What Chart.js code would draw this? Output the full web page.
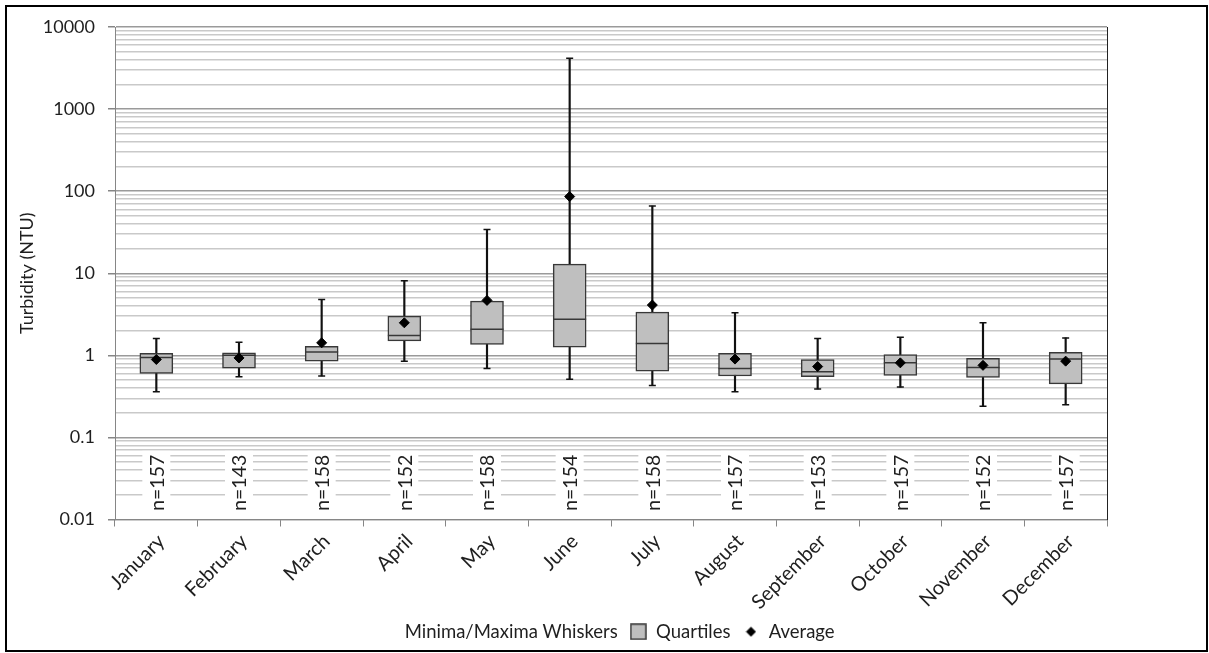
<!DOCTYPE html>
<html>
<head>
<meta charset="utf-8">
<title>Turbidity by month</title>
<script src="https://cdn.jsdelivr.net/npm/chart.js@4.4.1/dist/chart.umd.min.js"></script>
<style>
  html, body { margin: 0; padding: 0; background: #fff; }
  #wrap { position: relative; width: 1209px; height: 653px; }
  #wrap canvas { position: absolute; left: 0; top: 0; }
  #frame { position: absolute; left: 5px; top: 5px; right: 1px; bottom: 1px; border: 2px solid #000; pointer-events: none; }
</style>
</head>
<body>
<div id="wrap">
  <canvas id="turbidity" width="1209" height="653"></canvas>
  <div id="frame"></div>
</div>
<script>
// ── DATA ──────────────────────────────────────────────────────────────────────

const MONTHS = ['January', 'February', 'March', 'April', 'May', 'June',
                'July', 'August', 'September', 'October', 'November', 'December'];

const WHISKER_MIN = [0.36, 0.55, 0.56, 0.85, 0.69, 0.51, 0.43, 0.36, 0.39, 0.41, 0.24, 0.25];
const QUARTILE_1  = [0.60, 0.70, 0.85, 1.50, 1.36, 1.26, 0.64, 0.56, 0.55, 0.57, 0.54, 0.45];
const MEDIAN      = [0.94, 1.00, 1.10, 1.74, 2.08, 2.76, 1.39, 0.69, 0.63, 0.81, 0.71, 0.90];
const QUARTILE_3  = [1.06, 1.07, 1.29, 3.00, 4.58, 12.9, 3.36, 1.06, 0.89, 1.02, 0.92, 1.09];
const WHISKER_MAX = [1.60, 1.44, 4.8, 8.1, 34, 4150, 66, 3.3, 1.6, 1.66, 2.49, 1.63];
const AVERAGE     = [0.89, 0.93, 1.42, 2.49, 4.67, 86, 4.1, 0.90, 0.73, 0.81, 0.755, 0.85];
const COUNTS      = [157, 143, 158, 152, 158, 154, 158, 157, 153, 157, 152, 157];

const DECADES     = [0.01, 0.1, 1, 10, 100, 1000, 10000];
const Y_LABELS    = ['0.01', '0.1', '1', '10', '100', '1000', '10000'];
const MINOR_STEPS = [2, 3, 4, 5, 6, 7, 8, 9];

// ── STYLE ─────────────────────────────────────────────────────────────────────

const FONT = 'Lato, "Open Sans", sans-serif';
const TEXT = '#1f1f1f';
const AXIS = '#868686';
const GRID_MINOR = '#c9c9c9';
const GRID_MAJOR = '#9a9a9a';
const BOX_FILL = '#bfbfbf';
const BOX_EDGE = '#383838';

Chart.defaults.font.family = FONT;
Chart.defaults.font.size = 19;
Chart.defaults.color = TEXT;

// ── HELPERS ───────────────────────────────────────────────────────────────────

// log axis: one line per 1..9 step of each decade, labels only on decades
function buildLogTicks(scale) {
  const ticks = [];
  DECADES.forEach((d, i) => {
    ticks.push({ value: d, major: true });
    if (i < DECADES.length - 1) {
      MINOR_STEPS.forEach(s => ticks.push({ value: +(d * s).toPrecision(6), major: false }));
    }
  });
  scale.ticks = ticks;
}

const isDecade = v => DECADES.indexOf(v) >= 0;

function swatch(w, h, paint) {
  const c = document.createElement('canvas');
  c.width = w;
  c.height = h;
  paint(c.getContext('2d'));
  return c;
}

const blankMark = swatch(1, 1, () => {});
const boxMark = swatch(17, 17, g => {
  g.fillStyle = BOX_FILL;
  g.fillRect(1, 1, 15, 15);
  g.strokeStyle = BOX_EDGE;
  g.lineWidth = 1.5;
  g.strokeRect(1, 1, 15, 15);
});
const diamondMark = swatch(11, 11, g => {
  g.fillStyle = '#000';
  g.beginPath();
  g.moveTo(5.5, 0.5); g.lineTo(10.5, 5.5); g.lineTo(5.5, 10.5); g.lineTo(0.5, 5.5);
  g.closePath();
  g.fill();
});

// sample sizes written upright inside the lower band of the plot
const countLabels = {
  id: 'countLabels',
  beforeDatasetsDraw(chart) {
    const { ctx, scales: { x, y } } = chart;
    const yc = y.getPixelForValue(0.028);
    ctx.save();
    ctx.font = `19.5px ${FONT}`;
    ctx.textAlign = 'center';
    ctx.textBaseline = 'middle';
    COUNTS.forEach((n, i) => {
      const xc = x.getPixelForValue(i);
      ctx.fillStyle = '#fff';
      ctx.fillRect(xc - 14, yc - 32, 28, 64);
      ctx.save();
      ctx.translate(xc + 1, yc);
      ctx.rotate(-Math.PI / 2);
      ctx.fillStyle = TEXT;
      ctx.fillText('n=' + n, 0, 0);
      ctx.restore();
    });
    ctx.restore();
  }
};

const marks = (data, style, radius, width, color) => ({
  type: 'line', data, showLine: false,
  pointStyle: style, pointRadius: radius, pointHoverRadius: radius,
  pointBorderWidth: width, pointBorderColor: color, pointBackgroundColor: color,
});

// ── CHART ─────────────────────────────────────────────────────────────────────

new Chart(document.getElementById('turbidity'), {
  type: 'bar',
  data: {
    labels: MONTHS,
    datasets: [
      { label: 'Average', ...marks(AVERAGE, 'rectRot', 5, 1, '#000') },
      { label: 'Median', ...marks(MEDIAN, 'line', 16.5, 1.5, BOX_EDGE) },
      {
        label: 'Quartiles', type: 'bar', grouped: false,
        data: MONTHS.map((_, i) => [QUARTILE_1[i], QUARTILE_3[i]]),
        backgroundColor: BOX_FILL, borderColor: BOX_EDGE, borderWidth: 1.5,
        borderSkipped: false, barThickness: 33,
      },
      { label: 'Max', ...marks(WHISKER_MAX, 'line', 3.5, 1.5, '#111') },
      { label: 'Min', ...marks(WHISKER_MIN, 'line', 3.5, 1.5, '#111') },
      {
        label: 'Minima/Maxima Whiskers', type: 'bar', grouped: false,
        data: MONTHS.map((_, i) => [WHISKER_MIN[i], WHISKER_MAX[i]]),
        backgroundColor: '#111', borderWidth: 0, barThickness: 1.5,
      },
    ],
  },
  options: {
    responsive: false,
    animation: false,
    layout: { padding: { left: 14, right: 10, top: 27, bottom: 2 } },
    plugins: {
      tooltip: { enabled: false },
      legend: {
        position: 'bottom',
        onClick: null,
        labels: {
          usePointStyle: true,
          boxWidth: 17,
          boxHeight: 17,
          padding: 12,
          font: { size: 18.5 },
          color: TEXT,
          generateLabels: () => [
            { text: 'Minima/Maxima Whiskers', pointStyle: blankMark, fontColor: TEXT, lineWidth: 0, datasetIndex: 5 },
            { text: 'Quartiles', pointStyle: boxMark, fontColor: TEXT, lineWidth: 0, datasetIndex: 2 },
            { text: 'Average', pointStyle: diamondMark, fontColor: TEXT, lineWidth: 0, datasetIndex: 0 },
          ],
        },
      },
    },
    scales: {
      x: {
        offset: true,
        grid: { offset: true, drawOnChartArea: false, tickLength: 7, color: AXIS, lineWidth: 1 },
        border: { color: AXIS, width: 1 },
        ticks: { minRotation: 45, maxRotation: 45, autoSkip: false, padding: 3, labelOffset: 5, color: TEXT, font: { size: 20 } },
        afterFit(s) { s.height = 91; s.paddingLeft = 0; s.paddingRight = 0; },
      },
      y: {
        type: 'logarithmic',
        min: 0.01,
        max: 10000,
        afterBuildTicks: buildLogTicks,
        afterFit(s) { s.width = 101; s.paddingTop = 0; s.paddingBottom = 0; },
        grid: {
          color: c => isDecade(c.tick.value) ? GRID_MAJOR : GRID_MINOR,
          lineWidth: 1.5,
          tickLength: 7,
          tickColor: c => isDecade(c.tick.value) ? AXIS : 'rgba(0,0,0,0)',
        },
        border: { color: AXIS, width: 1 },
        ticks: {
          autoSkip: false,
          padding: 13,
          color: TEXT,
          font: { size: 18 },
          callback: v => { const i = DECADES.indexOf(v); return i >= 0 ? Y_LABELS[i] : ''; },
        },
        title: { display: true, text: 'Turbidity (NTU)', color: TEXT, font: { size: 18 }, padding: { top: 2, bottom: 0 } },
      },
      yRight: {
        type: 'linear',
        position: 'right',
        ticks: { display: false },
        grid: { drawOnChartArea: false, drawTicks: false },
        border: { color: '#222', width: 1 },
        afterFit(s) { s.width = 92; },
      },
    },
  },
  plugins: [countLabels],
});
</script>
</body>
</html>
